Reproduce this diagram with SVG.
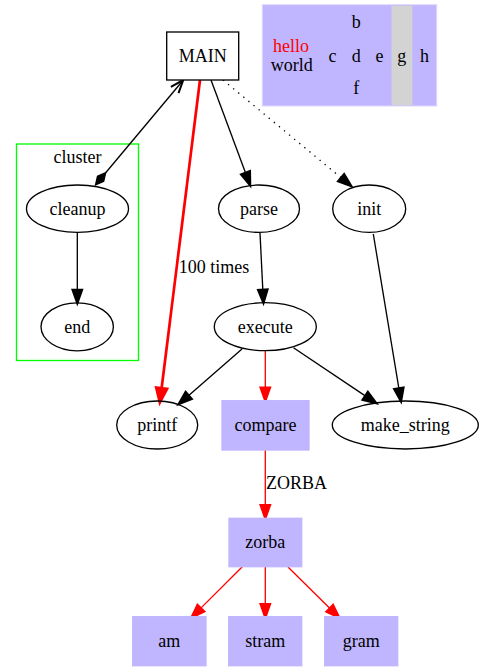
<svg xmlns="http://www.w3.org/2000/svg" width="483" height="671" viewBox="0 0 483 671">
<style>
text{font-family:"Liberation Serif",Tinos,"Nimbus Roman","Nimbus Roman No9 L",FreeSerif,Times,"DejaVu Serif","Noto Serif","Times New Roman",serif;font-size:18px;fill:#000;text-anchor:middle}
.el{fill:none;stroke:#000;stroke-width:1.33}
.bx{fill:#c0b6ff;stroke:#c0b6ff;stroke-width:1.33}
.e{fill:none;stroke:#000;stroke-width:1.33}
.r{fill:none;stroke:#f00;stroke-width:1.33}
</style>
<defs>
<marker id="ab" markerUnits="userSpaceOnUse" orient="auto" markerWidth="20" markerHeight="20" refX="0" refY="0" viewBox="-2 -8 18 16" overflow="visible">
<path d="M0,-4.7 L13.3,0 L0,4.7 z" fill="#000" stroke="#000" stroke-width="1.33"/>
</marker>
<marker id="ar" markerUnits="userSpaceOnUse" orient="auto" markerWidth="20" markerHeight="20" refX="0" refY="0" viewBox="-2 -8 18 16" overflow="visible">
<path d="M0,-4.7 L13.3,0 L0,4.7 z" fill="#f00" stroke="#f00" stroke-width="1.33"/>
</marker>
<marker id="arb" markerUnits="userSpaceOnUse" orient="auto" markerWidth="20" markerHeight="20" refX="0" refY="0" viewBox="-2 -8 18 16" overflow="visible">
<path d="M0,-4.7 L12.5,0 L0,4.7 z" fill="#f00" stroke="#f00" stroke-width="2.7"/>
</marker>
</defs>

<g id="cluster">
<rect x="16.5" y="144" width="122" height="216.5" fill="none" stroke="#0f0" stroke-width="1.33"/>
<text x="77.5" y="163">cluster</text>
</g>

<g id="connectors">
<path class="e" d="M211,80 L245.4,172.5" marker-end="url(#ab)"/>
<path class="e" d="M223,80 L340.8,177.5" stroke-dasharray="1.3,5.3" marker-end="url(#ab)"/>
<path d="M200,80 L161.6,388.3" fill="none" stroke="#f00" stroke-width="2.7" marker-end="url(#arb)"/>
<text x="214" y="273">100 times</text>
<path class="e" d="M105.7,172.7 L182.5,81"/>
<path d="M95.5,185 L103.7,181.4 L105.7,172.7 L97.5,176.2 z" fill="#000" stroke="#000" stroke-width="1.33"/>
<path d="M170.9,86.8 L183.3,80 L178.5,93.2" fill="none" stroke="#000" stroke-width="2"/>
<path class="e" d="M77.3,232.5 L77.3,289.4" marker-end="url(#ab)"/>
<path class="e" d="M260,233 L262.8,289.4" marker-end="url(#ab)"/>
<path class="e" d="M373.3,234 L398.8,387.9" marker-end="url(#ab)"/>
<path class="e" d="M242,349 L189,395.2" marker-end="url(#ab)"/>
<path class="e" d="M293.5,347.7 L364.9,395.6" marker-end="url(#ab)"/>
<path class="r" d="M265.3,351 L265.3,387.2" marker-end="url(#ar)"/>
<path class="r" d="M265.3,450 L265.3,504.7" marker-end="url(#ar)"/>
<text x="296.5" y="489">ZORBA</text>
<path class="r" d="M242.3,566.7 L201.1,607.9" marker-end="url(#ar)"/>
<path class="r" d="M265.3,567 L265.3,603.7" marker-end="url(#ar)"/>
<path class="r" d="M288,567 L329.5,608" marker-end="url(#ar)"/>
</g>

<g id="main">
<rect x="166.7" y="32" width="72" height="48" fill="#fff" stroke="#000" stroke-width="1.33"/>
<text x="202.7" y="61.7">MAIN</text>
</g>

<g id="record">
<rect x="262.3" y="4.7" width="174.4" height="101.3" fill="#c0b6ff" stroke="#ddd8ff" stroke-width="1"/>
<rect x="391.5" y="5.7" width="20.8" height="99.6" fill="#d3d3d3"/>
<text x="291" y="51.7" style="fill:#f00">hello</text>
<text x="291.7" y="70.5">world</text>
<text x="332.5" y="61.7">c</text>
<text x="356.3" y="27.7">b</text>
<text x="356.3" y="61.7">d</text>
<text x="356.3" y="94.3">f</text>
<text x="379.5" y="61.7">e</text>
<text x="401.7" y="61.7">g</text>
<text x="424.5" y="61.7">h</text>
</g>

<g id="parse">
<ellipse class="el" cx="259" cy="208.7" rx="40.5" ry="23.7"/>
<text x="259" y="214.5">parse</text>
</g>

<g id="init">
<ellipse class="el" cx="369.2" cy="208.7" rx="36.5" ry="23.7"/>
<text x="369.2" y="214.5">init</text>
</g>

<g id="cleanup">
<ellipse class="el" cx="77.5" cy="208.7" rx="51" ry="23.7"/>
<text x="77.5" y="214.5">cleanup</text>
</g>

<g id="end">
<ellipse class="el" cx="77.2" cy="326.8" rx="36.2" ry="24"/>
<text x="77.2" y="332.6">end</text>
</g>

<g id="execute">
<ellipse class="el" cx="265.3" cy="326.7" rx="51" ry="24"/>
<text x="265.3" y="332.5">execute</text>
</g>

<g id="printf">
<ellipse class="el" cx="157.2" cy="425" rx="40.5" ry="24"/>
<text x="157.2" y="430.8">printf</text>
</g>

<g id="compare">
<rect class="bx" x="222" y="400.7" width="87" height="49.3"/>
<text x="265.5" y="430.8">compare</text>
</g>

<g id="make_string">
<ellipse class="el" cx="405.3" cy="425" rx="73" ry="24"/>
<text x="405.3" y="430.8">make_string</text>
</g>

<g id="zorba">
<rect class="bx" x="229" y="518.3" width="72.7" height="48.4"/>
<text x="265.3" y="548">zorba</text>
</g>

<g id="am">
<rect class="bx" x="132.7" y="616.7" width="73.3" height="49"/>
<text x="169.3" y="647">am</text>
</g>

<g id="stram">
<rect class="bx" x="228.7" y="616.7" width="73" height="49"/>
<text x="265.2" y="647">stram</text>
</g>

<g id="gram">
<rect class="bx" x="324.7" y="616.7" width="73" height="49"/>
<text x="361.2" y="647">gram</text>
</g>
</svg>
